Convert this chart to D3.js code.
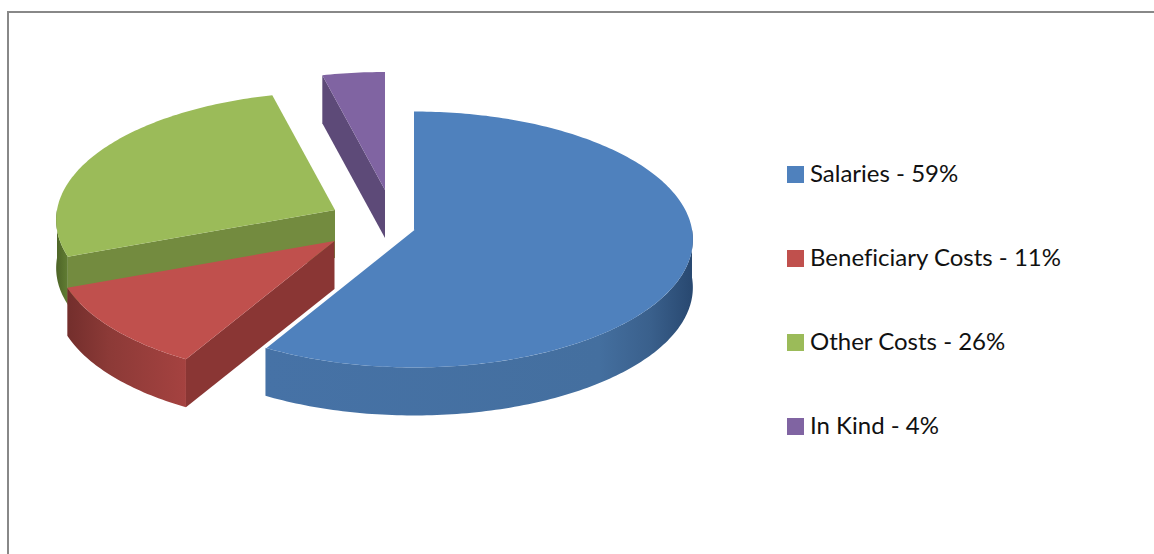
<!DOCTYPE html>
<html>
<head>
<meta charset="utf-8">
<script src="https://cdn.jsdelivr.net/npm/d3@7"></script>
<style>
html,body{margin:0;padding:0;background:#fff;overflow:hidden}
svg{display:block}
text{font-family:Lato,"Open Sans",sans-serif;fill:#111;font-variant-ligatures:none}
</style>
</head>
<body>
<svg id="c" width="1154" height="554"></svg>
<script>
const categories = ["Salaries", "Beneficiary Costs", "Other Costs", "In Kind"];
const shares = [58.3, 10.9, 26.9, 3.9];
const labelPercents = ["59%", "11%", "26%", "4%"];
const topColors = ["#4F81BD", "#C0504D", "#9BBB59", "#8064A2"];
const wallColors = [null, "#8A3634", "#738B3F", "#5D4A78"];
const sideStops = [
  [[0, "#4672A6"], [0.78, "#446F9F"], [0.9, "#3A608C"], [1, "#284870"]],
  [[0, "#732E2C"], [0.35, "#8C3A37"], [1, "#A54240"]],
  [[0, "#4D6427"], [1, "#617D33"]],
  null
];
const explodedCentres = [[414, 229.5], [334.5, 241], [335, 210], [385, 190]];

const W = 1154, H = 554, DEPTH = 48, K = 0.078;
const xR = d3.scaleLinear().domain([-1, 1]).range([-278, 278]);
const yR = d3.scaleLinear().domain([-1, 1]).range([127.2, -127.2]);

const svg = d3.select("#c");
const defs = svg.append("defs");

// chart frame: only top and left edges fall inside the crop
svg.append("path")
  .attr("d", d3.line()([[1154, 12], [8, 12], [8, 554]]))
  .attr("fill", "none").attr("stroke", "#888").attr("stroke-width", 2);

const arcs = d3.pie().sort(null).startAngle(0).endAngle(2 * Math.PI)(shares);

function project(a, c, r = 1) {
  const X = Math.sin(a) * r, Y = Math.cos(a) * r, p = 1 / (1 + K * Y);
  return [c[0] + xR(X) * p, c[1] + yR(Y) * p];
}
function arcPts(a0, a1, c) {
  const n = Math.max(2, Math.ceil((a1 - a0) * 60));
  return d3.range(n + 1).map(i => project(a0 + (a1 - a0) * i / n, c));
}
const line = d3.line();
const down = p => [p[0], p[1] + DEPTH];
const closed = pts => line(pts) + "Z";

// back to front
[3, 2, 1, 0].forEach(i => {
  const d = arcs[i], c = explodedCentres[i];
  const g = svg.append("g").attr("class", "slice");

  // outer rim: the part of the arc facing the viewer
  const s0 = Math.max(d.startAngle, Math.PI / 2), s1 = Math.min(d.endAngle, 3 * Math.PI / 2);
  if (s1 > s0 && sideStops[i]) {
    const rim = arcPts(s0, s1, c);
    const ext = d3.extent(rim, p => p[0]);
    const lg = defs.append("linearGradient").attr("id", "side" + i)
      .attr("gradientUnits", "userSpaceOnUse")
      .attr("x1", ext[0]).attr("x2", ext[1]).attr("y1", 0).attr("y2", 0);
    sideStops[i].forEach(s => lg.append("stop").attr("offset", s[0]).attr("stop-color", s[1]));
    g.append("path").attr("d", closed(rim.concat(rim.slice().reverse().map(down))))
      .attr("fill", `url(#side${i})`);
  }

  // cut face that looks toward the viewer
  if (wallColors[i]) {
    const edge = project(d.startAngle, c);
    g.append("path")
      .attr("d", closed([c, edge, down(edge), down(c)]))
      .attr("fill", wallColors[i]);
  }

  // top face
  g.append("path")
    .attr("d", closed([c].concat(arcPts(d.startAngle, d.endAngle, c))))
    .attr("fill", topColors[i]);

  if (i === 0) {
    g.append("path")
      .attr("d", line([c, project(d.endAngle, c)]))
      .attr("stroke", "#fff").attr("stroke-width", 1.5).attr("fill", "none");
  }
});

// legend
const rowY = d3.scalePoint().domain(categories).range([166, 418]);
const leg = svg.append("g").selectAll("g").data(categories).join("g")
  .attr("transform", d => `translate(787,${rowY(d)})`);
leg.append("rect").attr("width", 17).attr("height", 17)
  .attr("fill", (d, i) => topColors[i]);
leg.append("text").attr("x", 23).attr("y", 16)
  .attr("font-size", 24)
  .text((d, i) => `${d} - ${labelPercents[i]}`);
</script>
</body>
</html>
